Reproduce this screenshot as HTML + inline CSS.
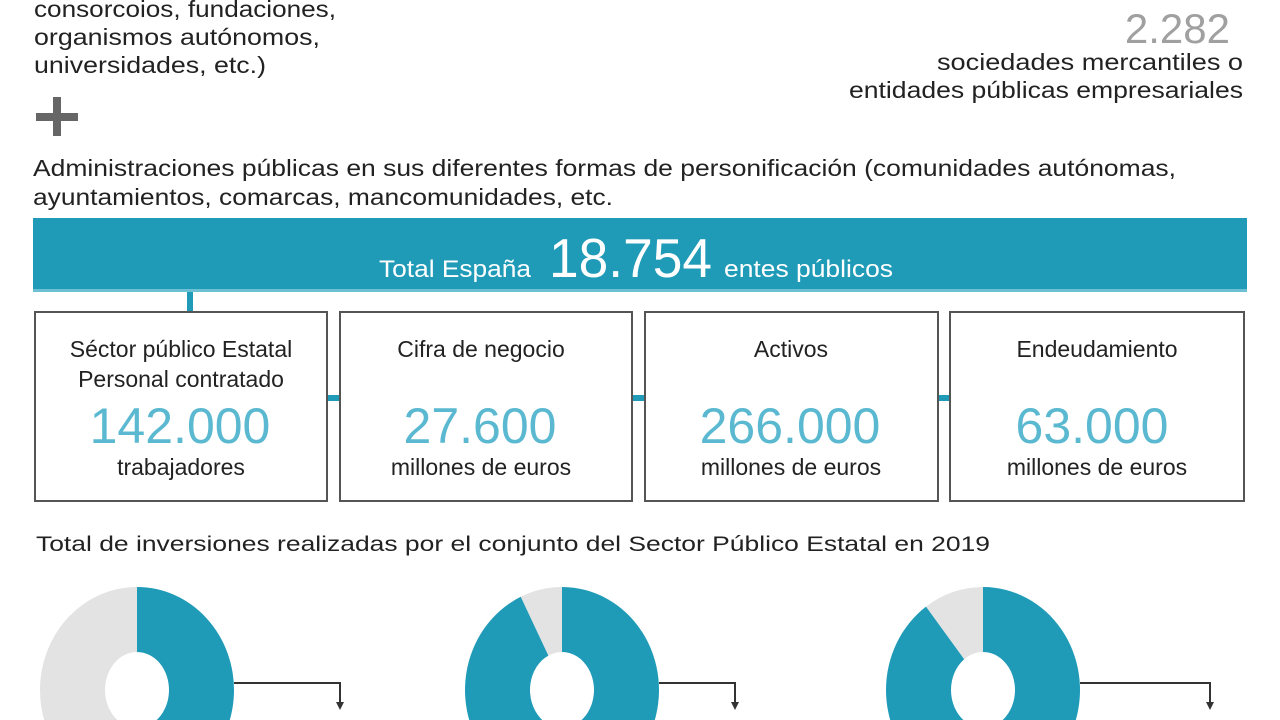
<!DOCTYPE html>
<html><head><meta charset="utf-8"><style>
html,body{margin:0;padding:0;background:#fff;width:1280px;height:720px;overflow:hidden;}
svg{display:block;font-family:"Liberation Sans",sans-serif;}
</style></head><body>
<svg width="1280" height="720" viewBox="0 0 1280 720">
<g fill="#222" font-size="23">
<text x="34" y="17" textLength="302" lengthAdjust="spacingAndGlyphs">consorcoios, fundaciones,</text>
<text x="34" y="45" textLength="286" lengthAdjust="spacingAndGlyphs">organismos autónomos,</text>
<text x="34" y="73" textLength="232" lengthAdjust="spacingAndGlyphs">universidades, etc.)</text>
<text x="1243" y="70" text-anchor="end" textLength="306" lengthAdjust="spacingAndGlyphs">sociedades  mercantiles o</text>
<text x="1243" y="98" text-anchor="end" textLength="394" lengthAdjust="spacingAndGlyphs">entidades públicas empresariales</text>
<text x="33" y="176" textLength="1143" lengthAdjust="spacingAndGlyphs">Administraciones públicas en sus diferentes formas de personificación (comunidades autónomas,</text>
<text x="33" y="205" textLength="580" lengthAdjust="spacingAndGlyphs">ayuntamientos, comarcas, mancomunidades, etc.</text>
</g>
<text x="1230" y="43" text-anchor="end" font-size="42" fill="#a0a0a0">2.282</text>
<g fill="#666"><rect x="36" y="113" width="42" height="8"/><rect x="53" y="97" width="8" height="39"/></g>
<rect x="33" y="218" width="1214" height="74" fill="#1f9bb8"/>
<rect x="33" y="289" width="1214" height="3" fill="#6cc0d4"/>
<g fill="#fff">
<text x="379" y="277" font-size="24" textLength="152" lengthAdjust="spacingAndGlyphs">Total España</text>
<text x="549" y="277" font-size="55" textLength="163" lengthAdjust="spacingAndGlyphs">18.754</text>
<text x="724" y="277" font-size="24" textLength="169" lengthAdjust="spacingAndGlyphs">entes públicos</text>
</g>
<rect x="187" y="292" width="6" height="20" fill="#1f9bb8"/>
<g fill="#1f9bb8"><rect x="327" y="395" width="13" height="6"/><rect x="632" y="395" width="13" height="6"/><rect x="938" y="395" width="12" height="6"/></g>
<g fill="#fff" stroke="#555" stroke-width="2">
<rect x="35" y="312" width="292" height="189"/>
<rect x="340" y="312" width="292" height="189"/>
<rect x="645" y="312" width="293" height="189"/>
<rect x="950" y="312" width="294" height="189"/>
</g>
<g text-anchor="middle" font-size="23" fill="#222">
<text x="181" y="357">Séctor público Estatal</text><text x="181" y="387">Personal contratado</text>
<text x="481" y="357">Cifra de negocio</text>
<text x="791" y="357">Activos</text>
<text x="1097" y="357">Endeudamiento</text>
<text x="181" y="475">trabajadores</text>
<text x="481" y="475">millones de euros</text>
<text x="791" y="475">millones de euros</text>
<text x="1097" y="475">millones de euros</text>
</g>
<g text-anchor="middle" font-size="50" fill="#5ab9d0">
<text x="180" y="443">142.000</text>
<text x="480" y="443">27.600</text>
<text x="790" y="443">266.000</text>
<text x="1092" y="443">63.000</text>
</g>
<text x="36" y="551" font-size="21" fill="#222" textLength="954" lengthAdjust="spacingAndGlyphs">Total de inversiones realizadas por el conjunto del Sector Público Estatal en 2019</text>
<g id="donuts"></g>
</svg>
<script>
const donutLabels = ["Inversión 1", "Inversión 2", "Inversión 3"];
const donutValues = [51, 93, 90];
const donutCenters = [137, 562, 983];
const lineEnds = [340, 735, 1210];
const NS = "http://www.w3.org/2000/svg";
const g = document.getElementById("donuts");
const cy = 690, rx = 97, ry = 103, irx = 32, iry = 38;
function pt(cx, a, rX, rY) { return [cx + rX * Math.sin(a), cy - rY * Math.cos(a)]; }
function arc(cx, a0, a1) {
  const large = (a1 - a0) > Math.PI ? 1 : 0;
  const p0 = pt(cx, a0, rx, ry), p1 = pt(cx, a1, rx, ry), q1 = pt(cx, a1, irx, iry), q0 = pt(cx, a0, irx, iry);
  return `M${p0[0]},${p0[1]} A${rx},${ry} 0 ${large} 1 ${p1[0]},${p1[1]} L${q1[0]},${q1[1]} A${irx},${iry} 0 ${large} 0 ${q0[0]},${q0[1]} Z`;
}
donutValues.forEach((v, i) => {
  const cx = donutCenters[i];
  const a = v / 100 * 2 * Math.PI;
  const grey = document.createElementNS(NS, "path");
  grey.setAttribute("d", arc(cx, a, 2 * Math.PI - 0.0001));
  grey.setAttribute("fill", "#e3e3e3");
  
  
  g.appendChild(grey);
  const blue = document.createElementNS(NS, "path");
  blue.setAttribute("d", arc(cx, 0, a));
  blue.setAttribute("fill", "#1f9bb8");
  
  
  g.appendChild(blue);
  const ln = document.createElementNS(NS, "path");
  ln.setAttribute("d", `M${cx + rx},${cy - 7} H${lineEnds[i]} V${cy + 18}`);
  ln.setAttribute("fill", "none");
  ln.setAttribute("stroke", "#333");
  ln.setAttribute("stroke-width", "2");
  
  
  g.appendChild(ln);
  const ar = document.createElementNS(NS, "path");
  ar.setAttribute("d", `M${lineEnds[i] - 4},${cy + 12} L${lineEnds[i] + 4},${cy + 12} L${lineEnds[i]},${cy + 20} Z`);
  ar.setAttribute("fill", "#333");
  
  
  g.appendChild(ar);
  const t = document.createElementNS(NS, "text");
  t.setAttribute("x", lineEnds[i] - 10);
  t.setAttribute("y", cy + 68);
  t.setAttribute("font-size", "50");
  t.setAttribute("fill", "#5ab9d0");
  t.textContent = v + "%";
  
  
  g.appendChild(t);
});
</script>
</body></html>
